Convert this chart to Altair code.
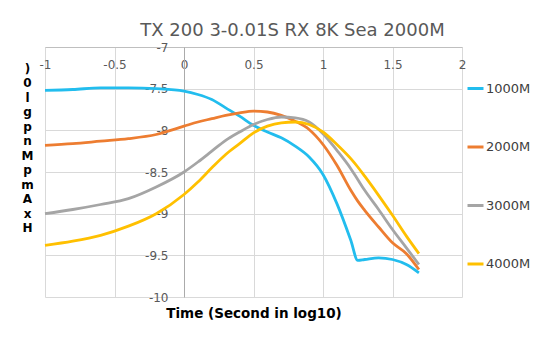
import altair as alt
import pandas as pd

x_vals = [-1, -0.8, -0.6, -0.4, -0.2, 0, 0.1, 0.2, 0.3, 0.4, 0.5, 0.6, 0.7, 0.8, 0.9,
          1.0, 1.1, 1.2, 1.25, 1.3, 1.4, 1.5, 1.6, 1.69]

s1000 = [-7.52, -7.51, -7.49, -7.49, -7.50, -7.53, -7.57, -7.63, -7.73, -7.83, -7.94, -8.02,
         -8.09, -8.19, -8.32, -8.53, -8.88, -9.32, -9.56, -9.55, -9.53, -9.55, -9.61, -9.71]
s2000 = [-8.18, -8.16, -8.13, -8.10, -8.05, -7.95, -7.90, -7.86, -7.82, -7.79, -7.77, -7.78,
         -7.82, -7.89, -7.99, -8.17, -8.42, -8.72, -8.85, -8.96, -9.16, -9.35, -9.48, -9.67]
s3000 = [-9.00, -8.95, -8.89, -8.82, -8.68, -8.50, -8.38, -8.25, -8.12, -8.02, -7.93, -7.87,
         -7.84, -7.85, -7.90, -8.04, -8.24, -8.46, -8.59, -8.72, -8.95, -9.19, -9.41, -9.61]
s4000 = [-9.38, -9.33, -9.26, -9.15, -9.00, -8.77, -8.62, -8.45, -8.29, -8.16, -8.03, -7.95,
         -7.91, -7.90, -7.93, -8.02, -8.17, -8.34, -8.44, -8.55, -8.78, -9.02, -9.27, -9.48]

series_names = ["1000M", "2000M", "3000M", "4000M"]
series_colors = ["#22BDEE", "#ED7D31", "#A5A5A5", "#FFC000"]
x_ticks = [-1, -0.5, 0, 0.5, 1, 1.5, 2]
y_ticks = [-10, -9.5, -9, -8.5, -8, -7.5, -7]
y_title_chars = [")", "0", "l", "g", "p", "n", "M", "p", "m", "A", "x", "H"]

rows = []
for name, vals in zip(series_names, [s1000, s2000, s3000, s4000]):
    for xv, yv in zip(x_vals, vals):
        rows.append({"x": xv, "y": yv, "series": name})
df = pd.DataFrame(rows)

FONT = "DejaVu Sans"

chart = alt.Chart(df).mark_line(strokeWidth=2.8, interpolate="monotone").encode(
    x=alt.X("x:Q",
            scale=alt.Scale(domain=[-1, 2], nice=False, zero=False),
            axis=alt.Axis(orient="bottom", offset=-250, values=x_ticks,
                          labelExpr="'' + datum.value", grid=True, gridColor="#D9D9D9",
                          domainColor="#BFBFBF", ticks=False, labelPadding=12,
                          labelFlush=False, labelFont=FONT, labelFontSize=12,
                          labelColor="#595959",
                          title="Time (Second in log10)", titleFont=FONT,
                          titleFontSize=13.5, titleFontWeight="bold", titleColor="#000000",
                          titleY=259, titleBaseline="top")),
    y=alt.Y("y:Q",
            scale=alt.Scale(domain=[-10, -7], nice=False, zero=False),
            axis=alt.Axis(orient="left", offset=-139, values=y_ticks,
                          labelExpr="'' + datum.value", grid=True, gridColor="#D9D9D9",
                          domainColor="#ABABAB", ticks=False, labelPadding=16,
                          labelFont=FONT, labelFontSize=12, labelColor="#595959",
                          title=y_title_chars, titleFont=FONT, titleFontSize=12,
                          titleFontWeight="bold", titleColor="#000000", titleAngle=0,
                          titleX=-157, titleY=16, titleAlign="center",
                          titleBaseline="top", titleLineHeight=14.5)),
    color=alt.Color("series:N",
                    scale=alt.Scale(domain=series_names, range=series_colors),
                    legend=alt.Legend(title=None, orient="none", legendX=421, legendY=32,
                                      symbolType="stroke", symbolSize=256,
                                      symbolStrokeWidth=3, labelOffset=1,
                                      labelFont=FONT, labelFontSize=13,
                                      labelColor="#404040", rowPadding=41.5)),
).properties(
    width=417,
    height=250,
    title=alt.TitleParams("TX 200 3-0.01S RX 8K Sea 2000M", font=FONT, fontSize=18,
                          fontWeight="normal", color="#595959", dx=39, dy=7, offset=8),
    autosize=alt.AutoSizeParams(type="none"),
    padding={"left": 45, "top": 47, "right": 86, "bottom": 55},
).configure_view(stroke=None)

chart.save("out.html", embed_options={"renderer": "svg", "actions": False})
